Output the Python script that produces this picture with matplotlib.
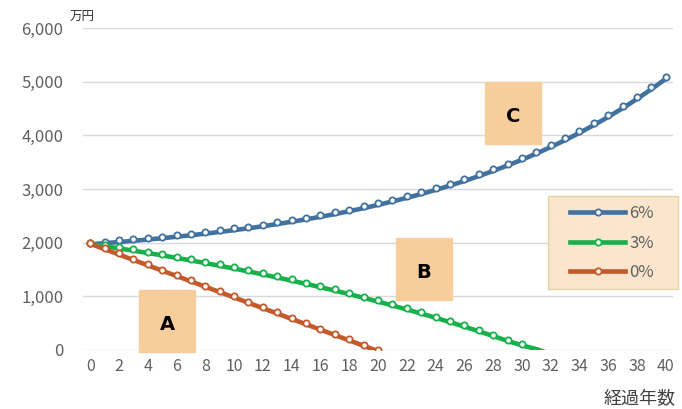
import matplotlib.pyplot as plt
import matplotlib.transforms as mtransforms
import numpy as np

plt.rcParams['font.family'] = ['Noto Sans CJK JP', 'DejaVu Sans']

# 経過年数
years = list(range(0, 41))

# 運用利回り 6%（万円）
rate6 = [2000, 2020, 2041, 2064, 2088, 2113, 2140, 2168, 2198, 2230,
         2264, 2299, 2337, 2378, 2420, 2466, 2513, 2564, 2618, 2675,
         2736, 2800, 2868, 2940, 3016, 3097, 3183, 3274, 3371, 3473,
         3581, 3696, 3818, 3947, 4084, 4229, 4382, 4545, 4718, 4901,
         5095]
# 運用利回り 3%（31年目以降はマイナス）
rate3 = [2000, 1960, 1919, 1876, 1833, 1788, 1741, 1694, 1644, 1594,
         1541, 1488, 1432, 1375, 1316, 1256, 1194, 1130, 1064, 995,
         925, 853, 778, 702, 623, 542, 458, 372, 283, 191,
         110, 40, -60]
# 運用利回り 0%
rate0 = [2000, 1900, 1800, 1700, 1600, 1500, 1400, 1300, 1200, 1100,
         1000, 900, 800, 700, 600, 500, 400, 300, 200, 100, 0]

series = [("6%", rate6, "#41729F", 41),
          ("3%", rate3, "#17B14B", 31),
          ("0%", rate0, "#C4592A", 21)]

W, H = 682, 409
fig = plt.figure(figsize=(W / 100, H / 100), dpi=100)
ax = fig.add_axes([83 / W, 1 - 350 / H, 590 / W, 322 / H])

# 線は少しずらして影っぽく
shift = mtransforms.offset_copy(ax.transData, fig=fig, x=1.0, y=-1.5, units='dots')
handles = []
for name, vals, col, nmark in series:
    x = years[:len(vals)]
    ax.plot(x, vals, color=col, lw=3.3, transform=shift, solid_capstyle='butt', zorder=3)
    ax.plot(x[:nmark], vals[:nmark], ls='none', marker='o', ms=4.5, mfc='white',
            mec=col, mew=1.3, zorder=4)
    h, = ax.plot([], [], color=col, lw=3.3, marker='o', ms=4.5, mfc='white', mec=col, mew=1.3)
    handles.append(h)

ax.set_xlim(-0.5, 40.5)
ax.set_ylim(0, 6000)
ax.set_xticks(range(0, 41, 2))
ax.set_yticks(range(0, 6001, 1000))
ax.set_yticklabels(["{:,}".format(v) for v in range(0, 6001, 1000)])
ax.tick_params(length=0, labelsize=11.5, colors="#606060", pad=6)
ax.tick_params(axis='y', pad=14, labelsize=12)
ax.grid(axis='y', color='#D9D9D9', lw=1)
ax.set_axisbelow(True)
for s in ax.spines.values():
    s.set_visible(False)

fig.text(70 / W, 1 - 21 / H, "万円", fontsize=9, color="#333333")
fig.text(676 / W, 1 - 404 / H, "経過年数", fontsize=13, color="#404040", ha='right')

# A, B, C のラベル
boxes = [("A", 139, 290), ("B", 396, 238), ("C", 485, 82)]
for lab, px, py in boxes:
    fig.patches.append(plt.Rectangle((px / W, 1 - (py + 62) / H), 56 / W, 62 / H,
                                     transform=fig.transFigure, color="#F7CD9B", zorder=5))
    fig.text((px + 28) / W, 1 - (py + 34) / H, lab, fontsize=14, ha='center',
             va='center', color='black', zorder=6, family='DejaVu Sans', fontweight='bold')

# 凡例の枠
fig.patches.append(plt.Rectangle((548 / W, 1 - 289 / H), 130 / W, 93 / H,
                                 transform=fig.transFigure, facecolor="#FBE5CD",
                                 edgecolor="#E3D6A6", lw=1, zorder=1))
leg = fig.legend(handles, [s[0] for s in series], loc='center left',
                 bbox_to_anchor=(562 / W, 1 - 243 / H), frameon=False, fontsize=12,
                 handlelength=3.3, borderpad=0.0, labelspacing=0.75,
                 handletextpad=0.25)
for t in leg.get_texts():
    t.set_color("#606060")

fig.savefig("out.png", dpi=100)
